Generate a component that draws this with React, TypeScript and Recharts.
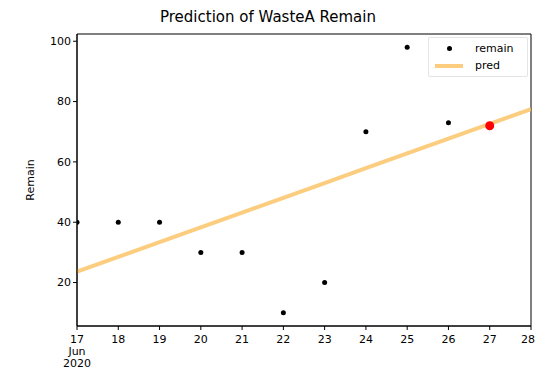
import React from 'react'
import { ComposedChart, Scatter, Line, XAxis, YAxis, ReferenceArea } from 'recharts'

const days = [17, 18, 19, 20, 21, 22, 23, 24, 25, 26, 27, 28]
const remain = [40, 40, 40, 30, 30, 10, 20, 70, 98, 73]
const pred = [23.6, 28.5, 33.4, 38.3, 43.2, 48.1, 53.0, 57.9, 62.8, 67.7, 72.6, 77.5]
const lastDay = 27
const lastValue = 72
const yTicks = [20, 40, 60, 80, 100]

const remainData = remain.map((v, i) => ({ day: days[i], remain: v }))
const predData = pred.map((v, i) => ({ day: days[i], pred: v }))
const lastData = [{ day: lastDay, remain: lastValue }]

const font = "'DejaVu Sans', sans-serif"

const XTick = (props: any) => {
  const { x, y, payload } = props
  return (
    <g transform={`translate(${x},${y})`}>
      <text x={0} y={0} dy={11} textAnchor="middle" fontSize={11} fill="#000" fontFamily={font}>
        {payload.value}
      </text>
      {payload.value === 17 && (
        <>
          <text x={0} y={12} dy={11} textAnchor="middle" fontSize={11} fill="#000" fontFamily={font}>Jun</text>
          <text x={0} y={24} dy={11} textAnchor="middle" fontSize={11} fill="#000" fontFamily={font}>2020</text>
        </>
      )}
    </g>
  )
}

const Dot = (props: any) => <circle cx={props.cx} cy={props.cy} r={2.5} fill="#000" />
const RedDot = (props: any) => <circle cx={props.cx} cy={props.cy} r={4.5} fill="#f00" />

const LegendBox = () => (
  <div style={{ position: 'absolute', left: 428, top: 37, fontFamily: font, fontSize: 11, border: '1px solid #e4e4e4', background: 'rgba(255,255,255,0.8)', borderRadius: 2, padding: '2px 6px', width: 86, lineHeight: '17px' }}>
    <div style={{ display: 'flex', alignItems: 'center' }}>
      <span style={{ width: 28, display: 'inline-flex', justifyContent: 'center' }}>
        <span style={{ width: 5, height: 5, borderRadius: 3, background: '#000', display: 'inline-block' }} />
      </span>
      <span style={{ marginLeft: 12 }}>remain</span>
    </div>
    <div style={{ display: 'flex', alignItems: 'center' }}>
      <span style={{ width: 28, height: 4, background: '#fbc15e', display: 'inline-block', opacity: 0.8 }} />
      <span style={{ marginLeft: 12 }}>pred</span>
    </div>
  </div>
)

export default function App() {
  return (
    <div style={{ position: 'absolute', left: 0, top: 0, width: 536, height: 376, background: '#fff' }}>
      <div style={{ position: 'absolute', left: 0, top: 8, width: 536, textAlign: 'center', fontFamily: font, fontSize: 15 }}>
        Prediction of WasteA Remain
      </div>
      <div style={{ position: 'absolute', left: 30, top: 180, transform: 'translate(-50%,-50%) rotate(-90deg)', fontFamily: font, fontSize: 11 }}>
        Remain
      </div>
      <ComposedChart width={536} height={376} margin={{ top: 34, right: 5, left: 0, bottom: 0 }}>
        <XAxis
          dataKey="day"
          type="number"
          domain={[17, 28]}
          ticks={days}
          allowDataOverflow
          height={50}
          tick={<XTick />}
          tickSize={4}
          tickLine={{ stroke: '#000' }}
          axisLine={{ stroke: '#000' }}
        />
        <YAxis
          type="number"
          domain={[5.6, 102.4]}
          ticks={yTicks}
          allowDataOverflow
          width={77}
          tickSize={4}
          tick={{ fontSize: 11, fill: '#000', fontFamily: font }}
          tickLine={{ stroke: '#000' }}
          axisLine={{ stroke: '#000' }}
        />
        <ReferenceArea x1={17} x2={28} y1={5.6} y2={102.4} fill="none" stroke="#000" strokeWidth={1} />
        <Line data={predData} dataKey="pred" stroke="#fbc15e" strokeOpacity={0.8} strokeWidth={4} dot={false} isAnimationActive={false} />
        <Scatter data={remainData} dataKey="remain" shape={<Dot />} isAnimationActive={false} />
        <Scatter data={lastData} dataKey="remain" shape={<RedDot />} isAnimationActive={false} />
      </ComposedChart>
      <LegendBox />
    </div>
  )
}
